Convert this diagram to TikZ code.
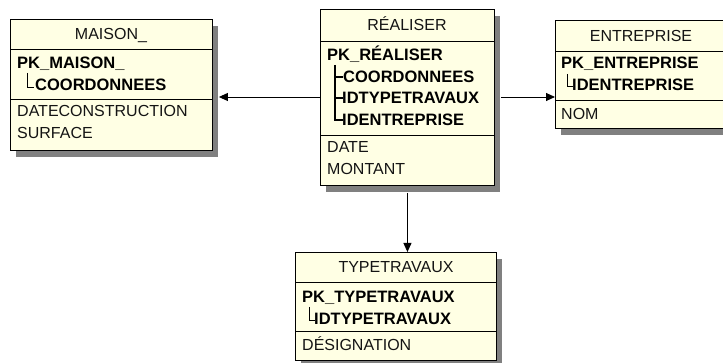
\documentclass[tikz,border=0pt]{standalone}
\usepackage{fontspec}
\setmainfont{Liberation Sans}
\usetikzlibrary{arrows.meta,shadows}
\definecolor{entfill}{HTML}{FFFFE4}
\definecolor{entshadow}{HTML}{808080}
\begin{document}
\begin{tikzpicture}[x=1pt,y=-1pt,
  entity/.style={draw=black, line width=0.9pt, fill=entfill, rectangle, inner sep=0pt,
    anchor=north west,
    drop shadow={shadow xshift=6pt, shadow yshift=-7pt, fill=entshadow, opacity=1}},
  sep/.style={draw=black, line width=0.9pt},
  txt/.style={inner sep=0pt, text height=11.5pt, text depth=0pt,
    font=\fontsize{16}{18}\selectfont, text=black!92},
  hdr/.style={txt, anchor=center},
  attr/.style={txt, anchor=west},
  key/.style={txt, anchor=west, font=\fontsize{16.5}{18}\selectfont\bfseries, text=black},
  tree/.style={draw=black, line width=0.9pt},
  treeb/.style={draw=black, line width=1.6pt},
  fk/.style={draw=black, line width=0.9pt, -{Triangle[length=9pt,width=8pt]}}
]
\useasboundingbox (0,0) rectangle (723,363);
\clip (0,0) rectangle (723,363);

% entity boxes
\node[entity, minimum width=202pt, minimum height=131pt] (mai) at (10,19) {};
\node[entity, minimum width=174pt, minimum height=176pt] (rea) at (320,9) {};
\node[entity, minimum width=172pt, minimum height=108pt] (ent) at (555,20) {};
\node[entity, minimum width=201pt, minimum height=108pt] (typ) at (295,252) {};

% section separators
\draw[sep] ([yshift=-30pt]mai.north west) -- ([yshift=-30pt]mai.north east);
\draw[sep] ([yshift=-80pt]mai.north west) -- ([yshift=-80pt]mai.north east);
\draw[sep] ([yshift=-32pt]rea.north west) -- ([yshift=-32pt]rea.north east);
\draw[sep] ([yshift=-126pt]rea.north west) -- ([yshift=-126pt]rea.north east);
\draw[sep] ([yshift=-31pt]ent.north west) -- ([yshift=-31pt]ent.north east);
\draw[sep] ([yshift=-80pt]ent.north west) -- ([yshift=-80pt]ent.north east);
\draw[sep] ([yshift=-30pt]typ.north west) -- ([yshift=-30pt]typ.north east);
\draw[sep] ([yshift=-79pt]typ.north west) -- ([yshift=-79pt]typ.north east);

% MAISON_
\node[hdr] (mai-h) at (111,34) {MAISON\_};
\node[key] (mai-pk) at (17,63) {PK\_MAISON\_};
\node[key] (mai-k1) at (35,85) {COORDONNEES};
\node[attr] (mai-a1) at (17,111) {DATECONSTRUCTION};
\node[attr] (mai-a2) at (17,133) {SURFACE};
\draw[tree] (27,73) |- (34,87);

% RÉALISER
\node[hdr] (rea-h) at (407,25) {RÉALISER};
\node[key] (rea-pk) at (327,55) {PK\_RÉALISER};
\node[key] (rea-k1) at (343,77) {COORDONNEES};
\node[key] (rea-k2) at (342,98) {IDTYPETRAVAUX};
\node[key] (rea-k3) at (342,120) {IDENTREPRISE};
\node[attr] (rea-a1) at (327,147) {DATE};
\node[attr] (rea-a2) at (327,169) {MONTANT};
\draw[treeb] (335,65) |- (343,120);
\draw[treeb] (335,77) -- (343,77);
\draw[treeb] (335,98) -- (343,98);

% ENTREPRISE
\node[hdr] (ent-h) at (641,36) {ENTREPRISE};
\node[key] (ent-pk) at (561,63) {PK\_ENTREPRISE};
\node[key] (ent-k1) at (572,85) {IDENTREPRISE};
\node[attr] (ent-a1) at (561,114) {NOM};
\draw[tree] (567,74) |- (573,86);

% TYPETRAVAUX
\node[hdr] (typ-h) at (396,267) {TYPETRAVAUX};
\node[key] (typ-pk) at (302,297) {PK\_TYPETRAVAUX};
\node[key] (typ-k1) at (314,319) {IDTYPETRAVAUX};
\node[attr] (typ-a1) at (302,345) {DÉSIGNATION};
\draw[tree] (309,307) |- (315,320);

% references
\draw[fk] ([yshift=-88pt]rea.north west) -- ([xshift=6pt,yshift=-78pt]mai.north east);
\draw[fk] ([xshift=6pt,yshift=-88pt]rea.north east) -- ([yshift=-77pt]ent.north west);
\draw[fk] ([yshift=-7pt]rea.south) -- (rea.south |- typ.north);
\end{tikzpicture}
\end{document}
